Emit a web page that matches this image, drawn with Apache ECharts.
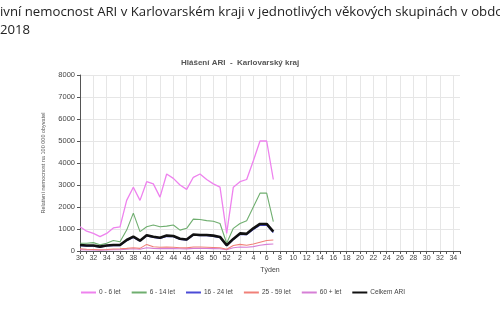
<!DOCTYPE html>
<html>
<head>
<meta charset="utf-8">
<script src="https://cdn.jsdelivr.net/npm/echarts@6/dist/echarts.min.js"></script>
<style>
  html, body { margin: 0; padding: 0; background: #fff; }
  #chart { width: 500px; height: 334px; }
</style>
</head>
<body>
<div id="chart"></div>
<script>
// Week numbers: season runs from week 30 to week 52, then weeks 1–35 of the next year
const weeks = [];
for (let w = 30; w <= 52; w++) weeks.push(String(w));
for (let w = 1; w <= 35; w++) weeks.push(String(w));

// Relative morbidity per 100 000 inhabitants, weeks 30..52 and 1..7
const age0to6   = [1100, 900, 800, 650, 800, 1050, 1100, 2300, 2900, 2300, 3150, 3050, 2450, 3500, 3300, 3000, 2800, 3350, 3500, 3250, 3050, 2900, 800, 2900, 3150, 3250, 4100, 5000, 5000, 3250];
const age6to14  = [350, 350, 380, 280, 350, 480, 420, 950, 1720, 880, 1100, 1180, 1100, 1130, 1180, 950, 1030, 1450, 1430, 1380, 1350, 1250, 350, 1030, 1250, 1380, 2000, 2630, 2630, 1330];
const age16to24 = [240, 220, 220, 180, 230, 250, 250, 470, 620, 450, 690, 620, 570, 670, 650, 530, 500, 720, 700, 700, 670, 610, 240, 520, 760, 750, 980, 1170, 1180, 840];
const age25to59 = [100, 80, 70, 60, 70, 90, 100, 120, 150, 120, 300, 190, 170, 180, 170, 150, 140, 180, 180, 170, 160, 150, 80, 250, 300, 260, 320, 400, 480, 500];
const age60plus = [60, 50, 45, 40, 45, 55, 60, 80, 100, 80, 150, 120, 110, 120, 110, 100, 95, 120, 120, 115, 110, 100, 60, 150, 180, 170, 200, 260, 300, 320];
const totalARI  = [270, 250, 250, 200, 250, 270, 270, 500, 650, 470, 720, 650, 600, 700, 680, 560, 520, 750, 730, 730, 700, 640, 260, 550, 800, 780, 1030, 1230, 1230, 880];

const yTicks = { min: 0, max: 8000, step: 1000 };

const chart = echarts.init(document.getElementById('chart'), null, { renderer: 'canvas' });

const axisFont = 'Liberation Sans, Arial, sans-serif';
const textFont = '13.2px "Open Sans", "Noto Sans", sans-serif';

function line(name, data, color, width, z) {
  return {
    name, type: 'line', data, z,
    symbol: 'none', smooth: false, connectNulls: false,
    lineStyle: { color, width },
    itemStyle: { color },
    emphasis: { disabled: true }
  };
}

chart.setOption({
  animation: false,
  backgroundColor: '#fff',
  graphic: [
    {
      type: 'text', left: 0, top: 6,
      style: {
        text: 'ivní nemocnost ARI v Karlovarském kraji v jednotlivých věkových skupinách v obdobích',
        font: textFont, fill: '#222'
      }
    },
    {
      type: 'text', left: 0, top: 24,
      style: { text: '2018', font: textFont, fill: '#222' }
    },
    {
      type: 'text', left: 181, top: 59,
      style: { text: 'Hlášení ARI  -  Karlovarský kraj', font: 'bold 8px ' + axisFont, fill: '#555' }
    }
  ],
  grid: { left: 80, right: 40, top: 75, bottom: 83, containLabel: false },
  legend: {
    left: 76, top: 284, itemWidth: 15, itemHeight: 2, itemGap: 11,
    icon: 'rect',
    textStyle: { fontSize: 6.5, color: '#444', fontFamily: axisFont, padding: [0, 0, 0, -2] },
    data: ['0 - 6 let', '6 - 14 let', '16 - 24 let', '25 - 59 let', '60 + let', 'Celkem ARI']
  },
  xAxis: {
    type: 'category', data: weeks, boundaryGap: false,
    name: 'Týden', nameLocation: 'middle', nameGap: 16,
    nameTextStyle: { fontSize: 7, color: '#444', fontFamily: axisFont },
    axisLine: { lineStyle: { color: '#555', width: 1 } },
    axisTick: { show: true, interval: 0, length: 3, lineStyle: { color: '#555' } },
    axisLabel: { interval: 1, fontSize: 7, color: '#444', fontFamily: axisFont, margin: 4 },
    splitLine: { show: true, interval: 1, lineStyle: { color: '#e6e6e6', width: 1 } }
  },
  yAxis: {
    type: 'value', min: yTicks.min, max: yTicks.max, interval: yTicks.step,
    name: 'Relativní nemocnost na 100 000 obyvatel', nameLocation: 'middle', nameGap: 34,
    nameTextStyle: { fontSize: 5.5, color: '#555', fontFamily: axisFont },
    axisLine: { show: true, lineStyle: { color: '#555', width: 1 } },
    axisTick: { show: true, length: 3, lineStyle: { color: '#555' } },
    axisLabel: { fontSize: 7.5, color: '#444', fontFamily: axisFont, margin: 5, formatter: v => String(v) },
    splitLine: { show: true, lineStyle: { color: '#e6e6e6', width: 1 } }
  },
  series: [
    line('0 - 6 let', age0to6, '#ee82ee', 1.3, 2),
    line('6 - 14 let', age6to14, '#6fae6f', 1.1, 2),
    line('16 - 24 let', age16to24, '#4b4bd6', 1.3, 3),
    line('25 - 59 let', age25to59, '#f08078', 1.1, 3),
    line('60 + let', age60plus, '#d67fd6', 1.1, 2),
    line('Celkem ARI', totalARI, '#111', 2.6, 5)
  ]
});
</script>
</body>
</html>
